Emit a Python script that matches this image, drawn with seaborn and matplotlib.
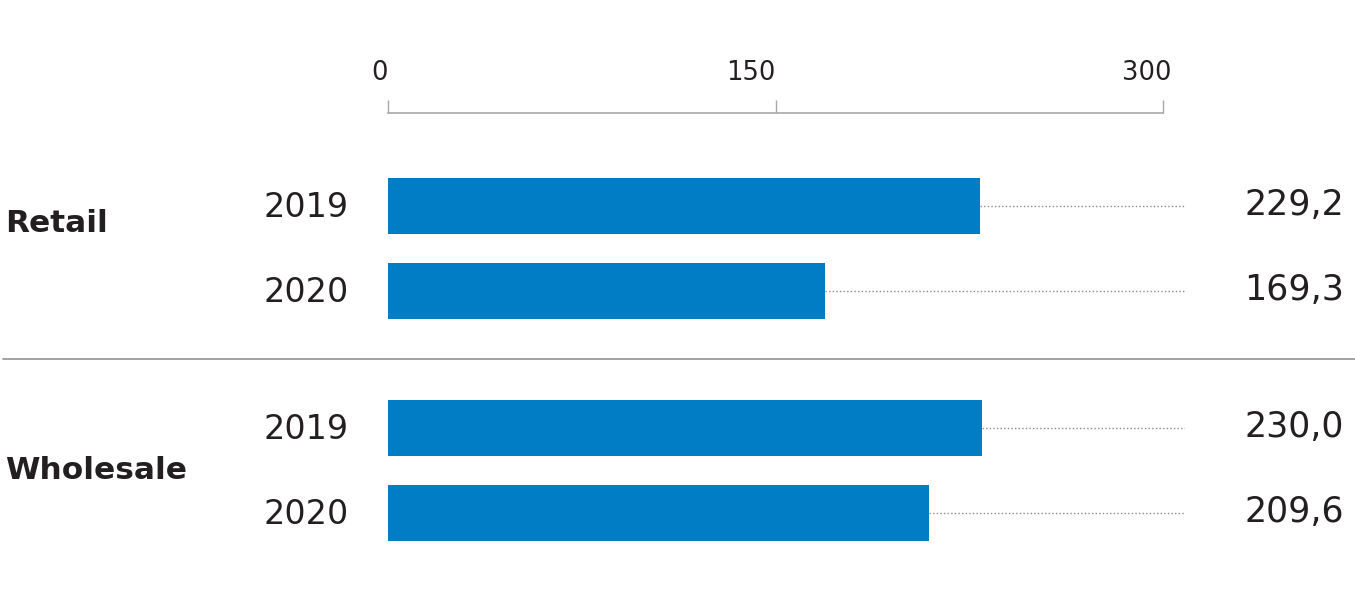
import matplotlib
matplotlib.use("Agg")
import matplotlib.pyplot as plt
import matplotlib.transforms as mtransforms
import numpy as np
import pandas as pd
import seaborn as sns

# data
groups = ["Retail", "Wholesale"]
years = ["2019", "2020"]
retail_values = [229.2, 169.3]
wholesale_values = [230.0, 209.6]
value_labels_retail = ["229,2", "169,3"]
value_labels_wholesale = ["230,0", "209,6"]
axis_ticks = [0, 150, 300]

BAR_COLOR = "#017dc5"
TEXT_COLOR = "#231f20"
GRID_GRAY = "#a8a8a8"

W, H, DPI = 1355, 612, 100


def px_x(px):
    return px / W


def px_y(px):
    return 1 - px / H


def draw_group(fig, ax, name, values, labels, name_y):
    df = pd.DataFrame({"year": years, "value": values})
    sns.barplot(data=df, x="value", y="year", orient="h", color=BAR_COLOR,
                width=0.67, saturation=1, linewidth=0, ax=ax)
    xmax = ax.get_xlim()[1]
    ax.hlines(np.arange(len(values)), values, xmax, colors="#8a8a8a",
              linestyles=(0, (1, 1.6)), linewidth=1.0, zorder=0)
    blend = mtransforms.blended_transform_factory(fig.transFigure, ax.transData)
    for i, lab in enumerate(labels):
        ax.text(px_x(1344), i - 0.01, lab, transform=blend, ha="right", va="center",
                fontsize=25, color=TEXT_COLOR)
    ax.text(px_x(5), name_y, name, transform=blend, ha="left", va="center",
            fontsize=22.5, fontweight="bold", color=TEXT_COLOR)
    ax.set_xlabel("")
    ax.set_ylabel("")
    ax.tick_params(axis="y", length=0, pad=28, labelsize=24, labelcolor=TEXT_COLOR)
    up = mtransforms.ScaledTranslation(0, 2 / DPI, fig.dpi_scale_trans)
    for lab in ax.get_yticklabels():
        lab.set_transform(lab.get_transform() + up)
    for s in ax.spines.values():
        s.set_visible(False)


sns.set_theme(style="white")
plt.rcParams["font.family"] = ["DejaVu Sans"]

fig = plt.figure(figsize=(W / DPI, H / DPI), dpi=DPI)
left = px_x(388)
width = (1185 - 388) / W
xmax = 300 * (1185 - 388) / (1163 - 388)

ax1 = fig.add_axes([left, px_y(359), width, (359 - 113) / H])
ax2 = fig.add_axes([left, px_y(612), width, (612 - 359) / H])

for ax in (ax1, ax2):
    ax.set_xlim(0, xmax)

draw_group(fig, ax1, groups[0], retail_values, value_labels_retail, 0.2)
draw_group(fig, ax2, groups[1], wholesale_values, value_labels_wholesale, 0.5)

for ax in (ax1, ax2):
    ax.set_xlim(0, xmax)
ax1.set_ylim(1 + 68 / 85, -93 / 85)
ax2.set_ylim(1 + 99 / 85, -69 / 85)

# top value axis
ax1.xaxis.tick_top()
ax1.set_xticks(axis_ticks)
ax1.set_xticklabels([str(t) for t in axis_ticks])
ax1.spines["top"].set_visible(True)
ax1.spines["top"].set_bounds(0, 300)
ax1.spines["top"].set_color(GRID_GRAY)
ax1.spines["top"].set_linewidth(1.2)
ax1.tick_params(axis="x", top=True, bottom=False, length=9.5, width=1.0, color=GRID_GRAY,
                pad=10, labelsize=18.5, labelcolor=TEXT_COLOR)
for i, lab in enumerate(ax1.get_xticklabels()):
    lab.set_ha("right")
    if i == len(axis_ticks) - 1:
        lab.set_transform(lab.get_transform()
                          + mtransforms.ScaledTranslation(9 / DPI, 0, fig.dpi_scale_trans))
ax2.set_xticks([])

# separator between the groups
fig.add_artist(plt.Line2D([px_x(3), 1], [px_y(359), px_y(359)], color="#9a9a9a",
                          linewidth=1.3, transform=fig.transFigure))

fig.savefig("out.png", dpi=DPI, facecolor="white")
